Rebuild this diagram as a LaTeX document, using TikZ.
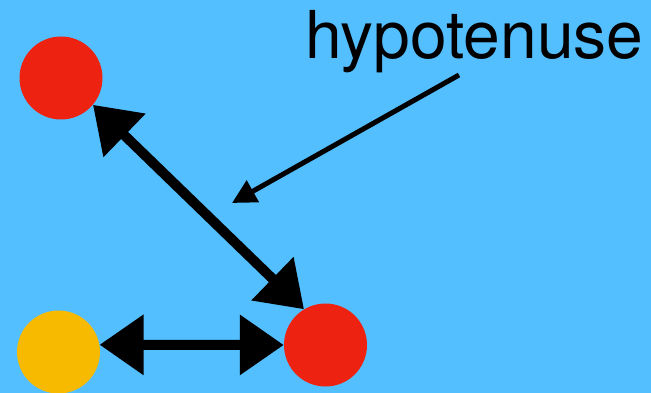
\documentclass[tikz,border=0pt]{standalone}
\usepackage{fontspec}
\setmainfont{TeX Gyre Heros}
\usetikzlibrary{arrows.meta}
\definecolor{bgblue}{RGB}{84,191,255}
\definecolor{dotred}{RGB}{238,34,17}
\definecolor{dotyellow}{RGB}{248,186,0}
\tikzset{
  dot/.style={circle, minimum size=83pt, inner sep=0pt, draw=none},
  sketcharrow/.style={line width=10pt, black, {Triangle[length=44pt,width=58pt]}-{Triangle[length=44pt,width=58pt]}},
  pointer/.style={line width=5pt, black, -{Triangle[length=24pt,width=24pt]}},
  label/.style={inner sep=0pt, font=\fontsize{66}{79}\selectfont, anchor=base west}
}
\begin{document}
\begin{tikzpicture}[x=1pt,y=-1pt]
  \fill[bgblue] (0,0) rectangle (651,393);
  \useasboundingbox (0,0) rectangle (651,393);
  \node[dot, fill=dotred] (a) at (61,78) {};
  \node[dot, fill=dotyellow] (b) at (58.5,352) {};
  \node[dot, fill=dotred] (c) at (325.5,345) {};
  \node[label] (t) at (305,59) {hypotenuse};
  \coordinate (p0) at (459,75);
  \coordinate (p1) at (232,203);
  \draw[sketcharrow] (a.-40) -- (c.121);
  \draw[sketcharrow] (b.10) -- (c.180);
  \draw[pointer] (p0) -- (p1);
\end{tikzpicture}
\end{document}
